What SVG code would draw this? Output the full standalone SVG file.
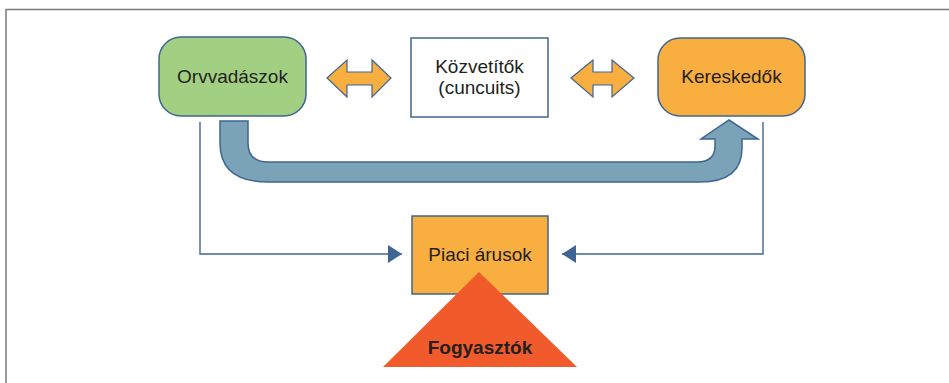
<svg xmlns="http://www.w3.org/2000/svg" width="949" height="383" viewBox="0 0 949 383">
<defs>
<style>
.frame{fill:none;stroke:#7a7a7a;stroke-width:1.5}
.edge{fill:none;stroke:#3f6593;stroke-width:1.4}
.lbl{font-family:"Liberation Sans",Arial,sans-serif;font-size:19px;fill:#231f20;text-anchor:middle}
.bold{font-weight:bold}
.dbl{fill:#f9ae40;stroke:#3f6593;stroke-width:1.2}
</style>
<marker id="ah" viewBox="0 0 14 18" refX="14" refY="9" markerWidth="14" markerHeight="18" markerUnits="userSpaceOnUse" orient="auto">
<path d="M0,0 L14,9 L0,18 Z" fill="#3f6593"/>
</marker>
</defs>
<rect width="949" height="383" fill="#ffffff"/>
<path class="frame" d="M6,383 L6,9.5 L949,9.5"/>

<g id="connectors">
<path class="edge" d="M200,122 L200,254 L402,254" marker-end="url(#ah)"/>
<path class="edge" d="M763,122 L763,254 L562,254" marker-end="url(#ah)"/>
<path id="u-arrow" d="M220,121 L248,121 L248,143 Q248,162 268,162 L697,162 Q715,162 715,146 L715,139 L701,139 L729,120 L758,139 L742,139 L742,148 Q742,182 700,182 L268,182 Q220,182 220,143 Z" fill="#7aa3b8" stroke="#3f6593" stroke-width="1.5"/>
<path class="dbl" d="M327,78 L347,60 L347,72 L372,72 L372,60 L391,78 L372,97 L372,85 L347,85 L347,97 Z"/>
<path class="dbl" d="M571,78 L593,60 L593,72 L612,72 L612,60 L634,78 L612,97 L612,85 L593,85 L593,97 Z"/>
</g>

<g id="orvvadaszok">
<rect x="159" y="37" width="147" height="79" rx="22" ry="22" fill="#a2d083" stroke="#3f6593" stroke-width="1.5"/>
<text class="lbl" x="232.5" y="83">Orvvadászok</text>
</g>

<g id="kozvetitok">
<rect x="411" y="38" width="137" height="79" fill="#ffffff" stroke="#3f6593" stroke-width="1.5"/>
<text class="lbl" x="479.5" y="73">Közvetítők</text>
<text class="lbl" x="479.5" y="94">(cuncuits)</text>
</g>

<g id="kereskedok">
<rect x="658" y="38" width="147" height="78" rx="22" ry="22" fill="#f9ae40" stroke="#3f6593" stroke-width="1.5"/>
<text class="lbl" x="731.5" y="83">Kereskedők</text>
</g>

<g id="piaci">
<rect x="412" y="216" width="136" height="78" fill="#f9ae40" stroke="#3f6593" stroke-width="1.5"/>
<text class="lbl" x="480" y="261">Piaci árusok</text>
</g>

<g id="fogyasztok">
<polygon points="479,272 577,367 383,367" fill="#f15a2b"/>
<text class="lbl bold" x="480" y="354">Fogyasztók</text>
</g>
</svg>
